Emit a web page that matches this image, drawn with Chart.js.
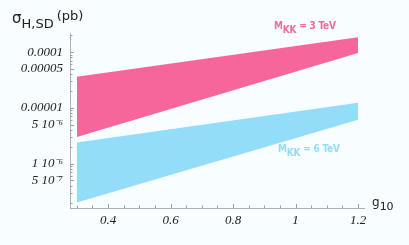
<!DOCTYPE html>
<html>
<head>
<meta charset="utf-8">
<script src="https://cdn.jsdelivr.net/npm/chart.js@4/dist/chart.umd.min.js"></script>
<style>
  html, body { margin:0; padding:0; background:#f8fdff; }
  #wrap { position:relative; width:409px; height:245px; }
  canvas { position:absolute; left:0; top:0; }
  .lbl { position:absolute; font-family:"DejaVu Sans", sans-serif; white-space:nowrap; }
  sub { font-size:0.85em; vertical-align:-0.35em; line-height:0; }
  .mk { font-family:"DejaVu Sans Condensed", "DejaVu Sans", sans-serif; font-stretch:condensed; font-size:10px; font-weight:bold; letter-spacing:-0.2px; }
</style>
</head>
<body>
<div id="wrap">
  <canvas id="c" width="409" height="245"></canvas>
  <div class="lbl" style="left:12px;top:9px;font-size:15px;color:#222;">σ<sub style="font-size:13px;vertical-align:-0.4em;">H,SD</sub><span style="font-size:13px;position:relative;top:-3px;margin-left:3px;">(pb)</span></div>
  <div class="lbl" style="left:372px;top:195px;font-size:12px;color:#222;">g<sub style="font-size:11px;">10</sub></div>
  <div class="lbl mk" style="left:274px;top:20px;color:#f26aa0;">M<sub style="font-size:10px;">KK</sub> = 3 TeV</div>
  <div class="lbl mk" style="left:278px;top:143px;color:#93dcf6;">M<sub style="font-size:10px;">KK</sub> = 6 TeV</div>
</div>
<script>
// ---- data ----
const gValues = [0.3, 1.2];
const pinkUpper = [3.6e-5, 1.85e-4];
const pinkLower = [3.0e-6, 9.6e-5];
const blueUpper = [2.4e-6, 1.23e-5];
const blueLower = [2.0e-7, 6.1e-6];

const yMajorTicks = [1e-4, 5e-5, 1e-5, 5e-6, 1e-6, 5e-7];
const yMajorLabels = ['0.0001', '0.00005', '0.00001', '5 10\u207B\u2076', '1 10\u207B\u2076', '5 10\u207B\u2077'];
const xMajorTicks = [0.4, 0.6, 0.8, 1.0, 1.2];
const xMajorLabels = ['0.4', '0.6', '0.8', '1', '1.2'];

const pink = '#f7669b';
const blue = '#93ddf8';

function pts(ys) { return gValues.map((g, i) => ({x: g, y: ys[i]})); }

// minor ticks
const yMinor = [];
for (let e = -7; e <= -4; e++) for (let m = 1; m <= 9; m++) {
  const v = m * Math.pow(10, e);
  if (v >= 1.6e-7 && v <= 2.2e-4) yMinor.push(v);
}
const xMinor = [];
for (let k = 6; k <= 24; k++) xMinor.push(k * 0.05);

function near(a, b) { return Math.abs(a - b) <= Math.abs(b) * 1e-6; }

const inwardTicks = {
  id: 'inwardTicks',
  afterDraw(chart) {
    const ctx = chart.ctx;
    const ys = chart.scales.y, xs = chart.scales.x;
    const a = chart.chartArea;
    ctx.save();
    ctx.strokeStyle = '#a0a0a0';
    ctx.lineWidth = 1;
    ctx.beginPath();
    yMinor.forEach(v => {
      const major = yMajorTicks.some(t => near(v, t));
      const len = major ? 4 : 2.5;
      const py = Math.round(ys.getPixelForValue(v)) + 0.5;
      ctx.moveTo(a.left, py); ctx.lineTo(a.left + len, py);
    });
    xMinor.forEach(v => {
      const major = xMajorTicks.some(t => Math.abs(t - v) < 1e-6);
      const len = major ? 4 : 2.5;
      const px = Math.round(xs.getPixelForValue(v)) + 0.5;
      ctx.moveTo(px, a.bottom); ctx.lineTo(px, a.bottom - len);
    });
    ctx.stroke();
    ctx.restore();
  }
};

new Chart(document.getElementById('c'), {
  type: 'line',
  data: {
    datasets: [
      {data: pts(pinkUpper), borderWidth: 0, pointRadius: 0, backgroundColor: pink, fill: '+1'},
      {data: pts(pinkLower), borderWidth: 0, pointRadius: 0, backgroundColor: pink, fill: false},
      {data: pts(blueUpper), borderWidth: 0, pointRadius: 0, backgroundColor: blue, fill: '+1'},
      {data: pts(blueLower), borderWidth: 0, pointRadius: 0, backgroundColor: blue, fill: false}
    ]
  },
  options: {
    responsive: false,
    animation: false,
    layout: {padding: {top: 33, right: 45, left: 0, bottom: 0}},
    plugins: {legend: {display: false}, tooltip: {enabled: false}},
    scales: {
      x: {
        type: 'linear', min: 0.278, max: 1.219,
        afterBuildTicks: s => { s.ticks = xMajorTicks.map(v => ({value: v})); },
        afterFit: s => { s.height = 37; },
        grid: {display: true, drawOnChartArea: false, drawTicks: false},
        border: {display: true, color: '#b0b0b0', width: 1},
        ticks: {
          padding: 5, color: '#222', maxRotation: 0, autoSkip: false,
          font: {family: '"Liberation Serif", serif', style: 'italic', size: 13},
          callback: v => { const i = xMajorTicks.findIndex(t => Math.abs(t - v) < 1e-6); return i >= 0 ? xMajorLabels[i] : ''; }
        }
      },
      y: {
        type: 'logarithmic', min: 1.6e-7, max: 2.2e-4,
        afterBuildTicks: s => { s.ticks = yMajorTicks.map(v => ({value: v})); },
        afterFit: s => { s.width = 70; },
        grid: {display: true, drawOnChartArea: false, drawTicks: false},
        border: {display: true, color: '#b0b0b0', width: 1},
        ticks: {
          padding: 7, color: '#222', autoSkip: false,
          font: {family: '"Liberation Serif", serif', style: 'italic', size: 13},
          callback: v => { const i = yMajorTicks.findIndex(t => near(v, t)); return i >= 0 ? yMajorLabels[i] : ''; }
        }
      }
    }
  },
  plugins: [inwardTicks]
});
</script>
</body>
</html>
